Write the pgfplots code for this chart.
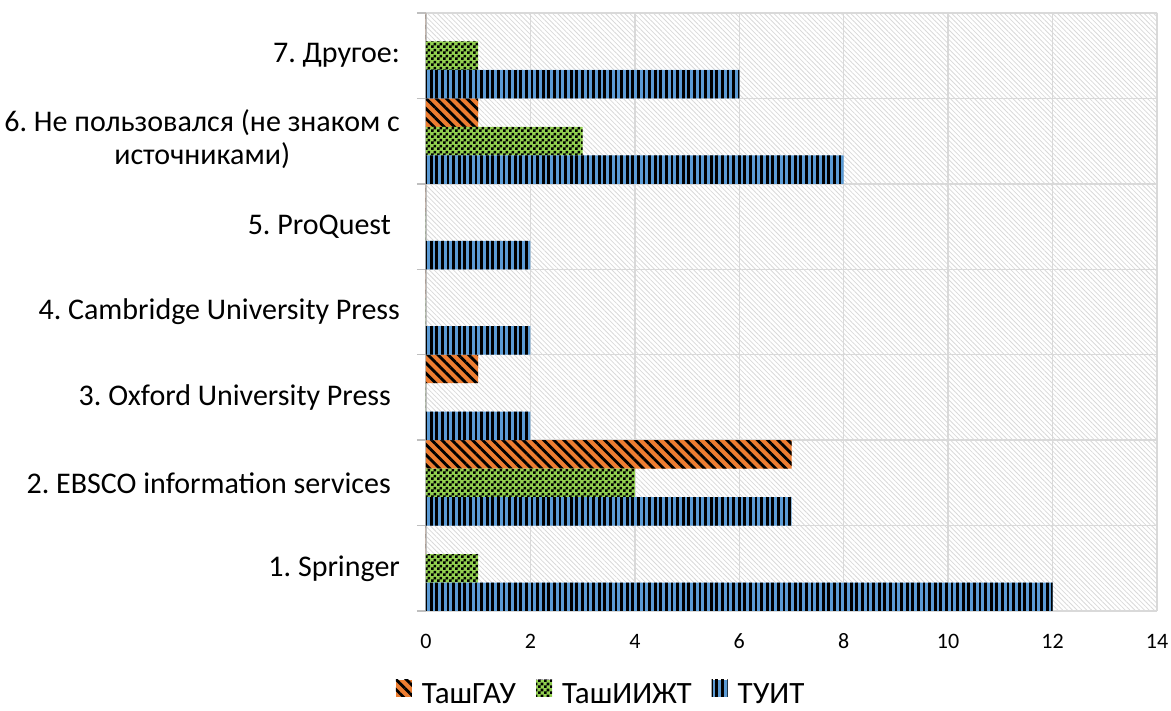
\documentclass[border=0pt]{standalone}
\usepackage{pgfplots}
\pgfplotsset{compat=1.18}
\usepackage{pgfplotstable}
\usetikzlibrary{patterns,patterns.meta}
\usepackage{fontspec}
\setmainfont{Carlito}
\frenchspacing
\definecolor{cGAU}{HTML}{ED7D31}
\definecolor{cIIZhT}{HTML}{92D050}
\definecolor{cTUIT}{HTML}{5B9BD5}
\definecolor{gridc}{HTML}{D9D9D9}
\definecolor{axc}{HTML}{BFBFBF}
\pgfdeclarepatternformonly{mychecker}{\pgfpointorigin}{\pgfqpoint{2.8pt}{2.8pt}}{\pgfqpoint{2.8pt}{2.8pt}}
{
  \pgfpathrectangle{\pgfpointorigin}{\pgfqpoint{1.4pt}{1.4pt}}
  \pgfpathrectangle{\pgfqpoint{1.4pt}{1.4pt}}{\pgfqpoint{1.4pt}{1.4pt}}
  \pgfusepath{fill}
}
\pgfplotstableread{
c TUIT TIIZhT TGAU
1 12 1 0
2 7 4 7
3 2 0 1
4 2 0 0
5 2 0 0
6 8 3 1
7 6 1 0
}\data
\begin{document}
\begin{tikzpicture}
\path[use as bounding box] (-213pt,-50pt) rectangle (372.5pt,305.5pt);
\begin{axis}[
  scale only axis,
  width=365.5pt, height=299pt,
  xbar, bar width=0.33333, bar shift=0pt,
  xmin=0, xmax=14, ymin=0, ymax=7,
  xtick={0,2,...,14},
  ytick={0.5,1.5,...,6.5},
  yticklabels={{1. Springer},{2. EBSCO information services\kern0.3em},{3. Oxford University Press\kern0.3em},{4. Cambridge University Press},{5. ProQuest\kern0.3em},{\begin{tabular}{@{}c@{}}6. Не пользовался (не знаком с\\источниками)\end{tabular}},{7. Другое:}},
  minor ytick={0,1,...,7},
  major tick length=0pt,
  minor tick length=4.5pt,
  tick align=outside,
  tick style={color=axc, line width=0.75pt},
  xmajorgrids=true, yminorgrids=true, ymajorgrids=false,
  grid style={color=gridc, line width=0.75pt},
  minor grid style={color=gridc, line width=0.75pt},
  axis y line*=left, axis x line*=bottom,
  x axis line style={draw=none},
  y axis line style={color=axc, line width=0.75pt, -},
  axis background/.style={pattern={Lines[angle=-45,distance=1.7pt,line width=0.4pt]}, pattern color=gray!30},
  /pgf/number format/assume math mode=true,
  xticklabel style={font=\fontsize{11}{13}\selectfont, yshift=-8pt, text height=7pt, text depth=0pt},
  yticklabel style={font=\fontsize{15}{16.5}\selectfont, xshift=-9.5pt},
  legend columns=3,
  legend style={draw=none, fill=none, font=\fontsize{15.5}{17}\selectfont,
    at={(0.241,-0.139)}, anchor=center, inner ysep=0pt,
    nodes={inner ysep=1pt},
    /tikz/every even column/.append style={column sep=8pt}},
  legend image code/.code={\path[#1] (0pt,-1pt) rectangle (8pt,7.5pt); \path (11pt,0pt);},
]
\addplot[draw=none, fill=cGAU, postaction={pattern={Lines[angle=-45,distance=3.6pt,line width=1.4pt]}, pattern color=black}]
  table[x=TGAU, y expr=\thisrow{c}-0.5+0.33333] {\data};
\addlegendentry{ТашГАУ}
\addplot[draw=none, fill=cIIZhT, postaction={pattern=mychecker, pattern color=black}]
  table[x=TIIZhT, y expr=\thisrow{c}-0.5] {\data};
\addlegendentry{ТашИИЖТ}
\addplot[draw=none, fill=cTUIT, postaction={pattern={Lines[angle=90,distance=2.8pt,line width=1.35pt]}, pattern color=black}]
  table[x=TUIT, y expr=\thisrow{c}-0.5-0.33333] {\data};
\addlegendentry{ТУИТ}
\end{axis}
\end{tikzpicture}
\end{document}
